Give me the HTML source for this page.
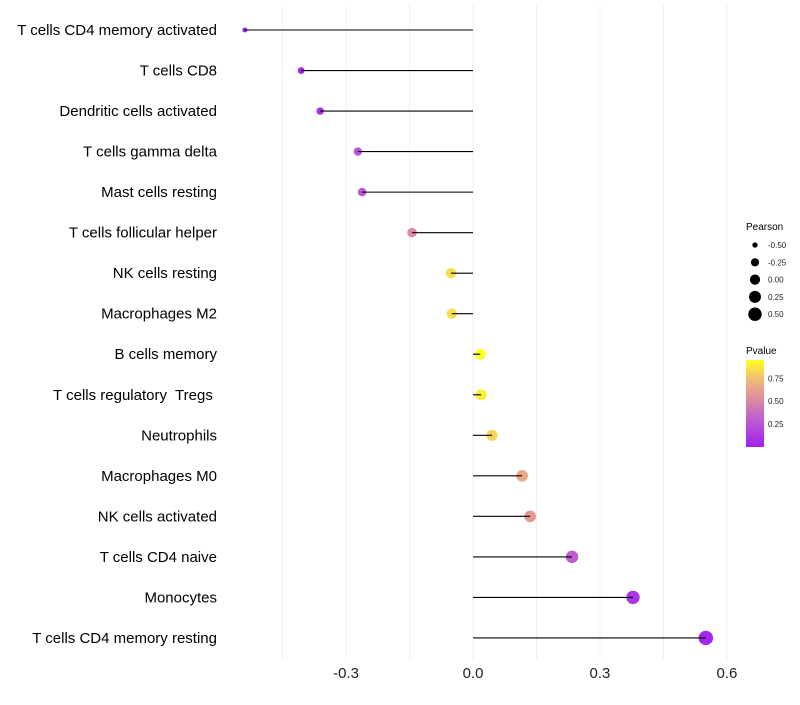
<!DOCTYPE html>
<html><head><meta charset="utf-8"><style>
body{margin:0;background:#fff;font-family:"Liberation Sans",sans-serif}
text{white-space:pre}
</style></head><body>
<svg id="c" width="800" height="700" xmlns="http://www.w3.org/2000/svg">
<defs><linearGradient id="pg" x1="0" y1="1" x2="0" y2="0">
<stop offset="0" stop-color="#A020F0"/><stop offset="0.33" stop-color="#C060D0"/><stop offset="0.55" stop-color="#DC8CA0"/><stop offset="0.8" stop-color="#F2C070"/><stop offset="1" stop-color="#FFFF20"/></linearGradient></defs>
</svg>
<script>
const categories=["T cells CD4 memory activated","T cells CD8","Dendritic cells activated","T cells gamma delta","Mast cells resting","T cells follicular helper","NK cells resting","Macrophages M2","B cells memory","T cells regulatory  Tregs ","Neutrophils","Macrophages M0","NK cells activated","T cells CD4 naive","Monocytes","T cells CD4 memory resting"];
const pearson=[-0.539,-0.406,-0.361,-0.272,-0.262,-0.144,-0.052,-0.050,0.017,0.019,0.045,0.116,0.135,0.234,0.378,0.550];
const pvalue=[0.02,0.05,0.08,0.25,0.27,0.52,0.85,0.85,0.95,0.9,0.82,0.65,0.58,0.3,0.1,0.03];
const xTicks=[-0.3,0.0,0.3,0.6];
const xTickLabels=["-0.3","0.0","0.3","0.6"];
const sizeBreaks=[-0.5,-0.25,0,0.25,0.5];
const sizeLabels=["-0.50","-0.25","0.00","0.25","0.50"];
const pTicks=[0.25,0.5,0.75];
const pTickLabels=["0.25","0.50","0.75"];
const svg=document.getElementById('c');const NS='http://www.w3.org/2000/svg';
function x(v){return 473+v*423.3;}
function y(i){return 30+i*40.53;}
function r(p){return Math.sqrt(Math.max(4,29+42*p));}
function col(p){const st=[[0,[160,32,240]],[0.33,[192,96,208]],[0.55,[220,140,160]],[0.8,[242,192,112]],[1,[255,255,32]]];const t=Math.max(0,Math.min(1,p/0.95));for(let k=1;k<st.length;k++){if(t<=st[k][0]){const a=st[k-1],b=st[k],f=(t-a[0])/(b[0]-a[0]);return 'rgb('+a[1].map((c,j)=>Math.round(c+(b[1][j]-c)*f)).join(',')+')';}}return 'rgb(255,255,32)';}
function mk(t,at,p){const e=document.createElementNS(NS,t);for(const k in at)e.setAttribute(k,at[k]);(p||svg).appendChild(e);return e;}
[-0.45,-0.3,-0.15,0,0.15,0.3,0.45,0.6].forEach(v=>{const g=mk('line',{x1:x(v),x2:x(v),y1:5,y2:660,stroke:'#f0f0f0','stroke-width':1});

});
categories.forEach((c,i)=>{
 const t=mk('text',{x:217,y:y(i)+5,'text-anchor':'end','font-size':15,fill:'#000'});t.textContent=c;
 
 
 const d=mk('circle',{cx:x(pearson[i]),cy:y(i),r:r(pearson[i]),fill:col(pvalue[i])});
 
 
 const l=mk('line',{x1:x(0),x2:x(pearson[i]),y1:y(i),y2:y(i),stroke:'#000','stroke-width':1.1});
 
 
});
xTicks.forEach((v,i)=>{const t=mk('text',{x:x(v),y:678,'text-anchor':'middle','font-size':15,fill:'#222'});t.textContent=xTickLabels[i];

});
const lt=mk('text',{x:746,y:230,'font-size':10,fill:'#000'});lt.textContent='Pearson';


sizeBreaks.forEach((v,i)=>{const cy=245+i*17.3;const c=mk('circle',{cx:755,cy:cy,r:r(v)*0.95,fill:'#000'});


const t=mk('text',{x:768,y:cy+3,'font-size':8,fill:'#222'});t.textContent=sizeLabels[i];

});
const pt=mk('text',{x:746,y:354,'font-size':10,fill:'#000'});pt.textContent='Pvalue';


const bar=mk('rect',{x:746,y:360,width:18,height:87,fill:'url(#pg)'});


pTicks.forEach((v,i)=>{const yy=447-v/0.95*87;const t=mk('text',{x:768,y:yy+3,'font-size':8,fill:'#222'});t.textContent=pTickLabels[i];

});
</script>
</body></html>
